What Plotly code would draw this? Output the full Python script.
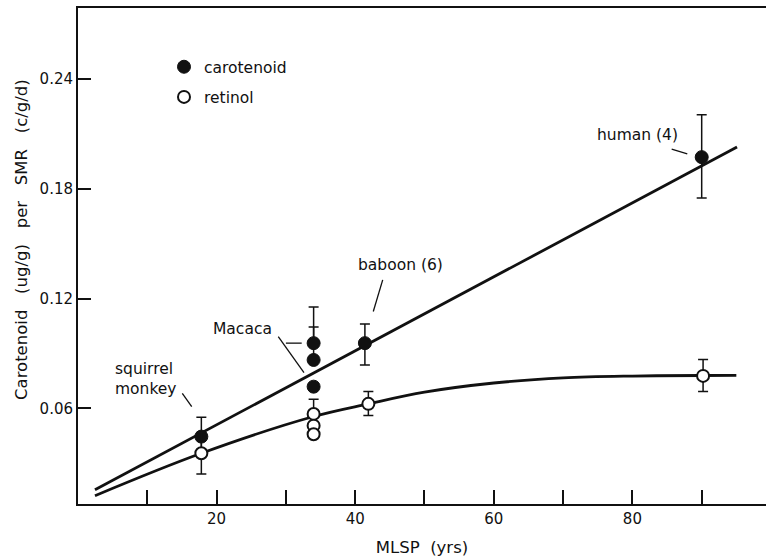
import plotly.graph_objects as go

# ---- data ----
car_x = [17.8, 34.0, 34.0, 34.0, 41.4, 90.0]
car_y = [0.0445, 0.0956, 0.0864, 0.0718, 0.0956, 0.1973]
car_err_plus = [0.0106, 0.0197, 0.0180, 0.0, 0.0105, 0.0232]
car_err_minus = [0.0106, 0.0, 0.0, 0.0, 0.0119, 0.0224]

ret_x = [17.8, 34.0, 34.0, 34.0, 41.9, 90.2]
ret_y = [0.0354, 0.0569, 0.0505, 0.0458, 0.0624, 0.0777]
ret_err_plus = [0.0114, 0.0080, 0.0, 0.0, 0.0067, 0.0090]
ret_err_minus = [0.0114, 0.0, 0.0, 0.0, 0.0064, 0.0086]

# fitted lines
car_fit_x = [2.45, 95.1]
car_fit_y = [0.0155, 0.2028]
ret_fit_x = [2.45, 17.8, 34.0, 41.9, 50.0, 60.0, 70.0, 80.0, 90.0, 95.0]
ret_fit_y = [0.0122, 0.0354, 0.0555, 0.0624, 0.0688, 0.0738, 0.0766, 0.0776, 0.0779, 0.0780]

x_ticks = [10, 20, 30, 40, 50, 60, 70, 80, 90]
x_tick_text = ["", "20", "", "40", "", "60", "", "80", ""]
y_ticks = [0.06, 0.12, 0.18, 0.24]
y_tick_text = ["0.06", "0.12", "0.18", "0.24"]

labels = ["human (4)", "baboon (6)", "Macaca", "squirrel<br>monkey"]
label_x = [80.8, 46.6, 23.8, 5.05]
label_y = [0.2095, 0.1384, 0.1032, 0.0761]
label_anchor = ["center", "center", "center", "left"]

pointers = [  # x0, y0, x1, y1
    (85.67, 0.2017, 87.92, 0.1991),
    (43.97, 0.1302, 42.61, 0.1129),
    (28.90, 0.0992, 32.61, 0.0795),
    (30.00, 0.0956, 32.28, 0.0956),
    (15.05, 0.0682, 16.41, 0.0609),
]

FONT = "DejaVu Sans"
BLACK = "#111111"
SP = "\u00a0"

fig = go.Figure()

fig.add_trace(go.Scatter(x=car_fit_x, y=car_fit_y, mode="lines",
                         line=dict(color=BLACK, width=2.8),
                         showlegend=False, hoverinfo="skip"))
fig.add_trace(go.Scatter(x=ret_fit_x, y=ret_fit_y, mode="lines",
                         line=dict(color=BLACK, width=2.8, shape="spline", smoothing=1.0),
                         showlegend=False, hoverinfo="skip"))

fig.add_trace(go.Scatter(
    x=car_x, y=car_y, mode="markers", name="carotenoid", legendgroup="a",
    marker=dict(symbol="circle", size=13, color=BLACK, line=dict(color=BLACK, width=1)),
    error_y=dict(type="data", symmetric=False, array=car_err_plus,
                 arrayminus=car_err_minus, color=BLACK, thickness=1.5, width=5),
))
fig.add_trace(go.Scatter(
    x=ret_x, y=ret_y, mode="markers", name="retinol", legendgroup="b",
    marker=dict(symbol="circle", size=12, color="white", line=dict(color=BLACK, width=2)),
    error_y=dict(type="data", symmetric=False, array=ret_err_plus,
                 arrayminus=ret_err_minus, color=BLACK, thickness=1.5, width=5),
))

for (x0, y0, x1, y1) in pointers:
    fig.add_shape(type="line", x0=x0, y0=y0, x1=x1, y1=y1, xref="x", yref="y",
                  line=dict(color=BLACK, width=1.3))

for t, x, y, a in zip(labels, label_x, label_y, label_anchor):
    fig.add_annotation(text=t, x=x, y=y, xref="x", yref="y", showarrow=False,
                       xanchor=a, yanchor="middle", align="left",
                       font=dict(family=FONT, size=15.5, color=BLACK))

# y axis title (pixel position converted to paper coords)
ytitle = (SP * 3).join(["Carotenoid", "(ug/g)", "per", "SMR", "(c/g/d)"])
fig.add_annotation(text=ytitle, x=(21 - 78) / 688, y=(504 - 240) / 496,
                   xref="paper", yref="paper", showarrow=False,
                   xanchor="center", yanchor="middle",
                   textangle=-90, font=dict(family=FONT, size=16.5, color=BLACK))

fig.update_layout(
    width=766, height=557,
    margin=dict(l=78, r=0, t=8, b=53),
    paper_bgcolor="white", plot_bgcolor="white",
    font=dict(family=FONT, size=15, color=BLACK),
    legend=dict(x=0.125, y=0.915, xanchor="left", yanchor="top",
                traceorder="grouped", tracegroupgap=7,
                font=dict(family=FONT, size=15.5, color=BLACK),
                bgcolor="rgba(0,0,0,0)"),
    xaxis=dict(range=[0, 99.28], tickvals=x_ticks, ticktext=x_tick_text,
               ticks="inside", ticklen=14, tickwidth=2, tickcolor=BLACK,
               showline=True, linecolor=BLACK, linewidth=2, mirror=True,
               showgrid=False, zeroline=False,
               title=dict(text="MLSP" + SP * 2 + "(yrs)", font=dict(family=FONT, size=16.5), standoff=14),
               tickfont=dict(family=FONT, size=15)),
    yaxis=dict(range=[0.00765, 0.27884], tickvals=y_ticks, ticktext=y_tick_text,
               ticks="inside", ticklen=13, tickwidth=2, tickcolor=BLACK,
               showline=True, linecolor=BLACK, linewidth=2, mirror=False,
               showgrid=False, zeroline=False, tickfont=dict(family=FONT, size=15)),
)

fig.write_html("out.html")
